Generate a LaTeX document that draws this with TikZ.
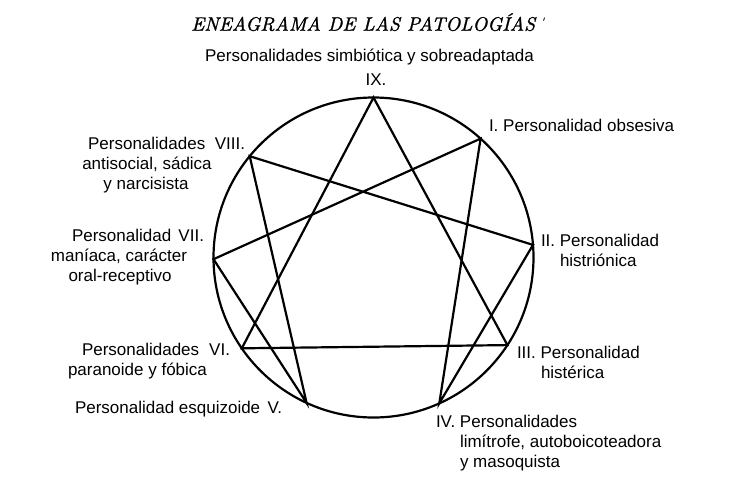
\documentclass[tikz,border=0pt]{standalone}
\usepackage{fontspec}
\newfontfamily\labfont{Liberation Sans}
\newfontfamily\titlefont{lmroman10-italic.otf}[FakeBold=1.2]
\begin{document}
\begin{tikzpicture}[x=1pt,y=-1pt,
  lab/.style={font=\labfont\fontsize{17}{20}\selectfont, inner sep=0pt, outer sep=0pt},
  lw/.style={lab, anchor=base west},
  le/.style={lab, anchor=base east},
  lc/.style={lab, anchor=base},
  fig/.style={line width=2.2pt, line join=miter}]
\path[use as bounding box, fill=white] (0,0) rectangle (733,480);
% title
\node[inner sep=0pt, anchor=base west, font=\titlefont\fontsize{19.4}{22}\selectfont] (title) at (191,30.7) {ENEAGRAMA DE LAS PATOLOG\'IAS};
\node[inner sep=0pt, anchor=center, font=\titlefont\fontsize{11}{11}\selectfont] (mark) at (542.5,21.5) {'};
% geometry
\coordinate (c) at (373.5,257.5);
\coordinate (p9) at (373.5,97.5);
\coordinate (p1) at (480.6,138.6);
\coordinate (p2) at (533.0,244.9);
\coordinate (p3) at (507.4,345.1);
\coordinate (p4) at (439.3,403.3);
\coordinate (p5) at (306.6,402.9);
\coordinate (p6) at (241.8,348.3);
\coordinate (p7) at (213.5,259.2);
\coordinate (p8) at (249.7,156.2);
\draw[fig] (c) circle (160pt);
\draw[fig] (p9) -- (p3) -- (p6) -- cycle;
\draw[fig] (p1) -- (p4) -- (p2) -- (p8) -- (p5) -- (p7) -- cycle;
% labels
\node[lc] (t9a) at (369.5,61) {Personalidades simbiótica y sobreadaptada};
\node[lc] (t9b) at (376,85) {IX.};
\node[lw] (t1) at (489,131.5) {I. Personalidad obsesiva};
\node[lw] (t2a) at (541,246) {II. Personalidad};
\node[lw] (t2b) at (560,266) {histriónica};
\node[lw] (t3a) at (517,358.3) {III. Personalidad};
\node[lw] (t3b) at (541,378.3) {histérica};
\node[lw] (t4a) at (436,427.3) {IV. Personalidades};
\node[lw] (t4b) at (460,447.3) {limítrofe, autoboicoteadora};
\node[lw] (t4c) at (460,467.3) {y masoquista};
\node[lw] (t5a) at (75,413.3) {Personalidad esquizoide};
\node[le] (t5b) at (282,413.3) {V.};
\node[lw] (t6a) at (82,355) {Personalidades};
\node[le] (t6b) at (230,355) {VI.};
\node[lw] (t6c) at (68,375) {paranoide y fóbica};
\node[lw] (t7a) at (72,241.7) {Personalidad};
\node[le] (t7b) at (204,241.7) {VII.};
\node[lc] (t7c) at (119,261.7) {maníaca, carácter};
\node[lc] (t7d) at (120,281.7) {oral-receptivo};
\node[lc] (t8a) at (146.7,149.3) {Personalidades};
\node[le] (t8b) at (245,149.3) {VIII.};
\node[lc] (t8c) at (147,169.3) {antisocial, sádica};
\node[lc] (t8d) at (146,189.3) {y narcisista};
\end{tikzpicture}
\end{document}
